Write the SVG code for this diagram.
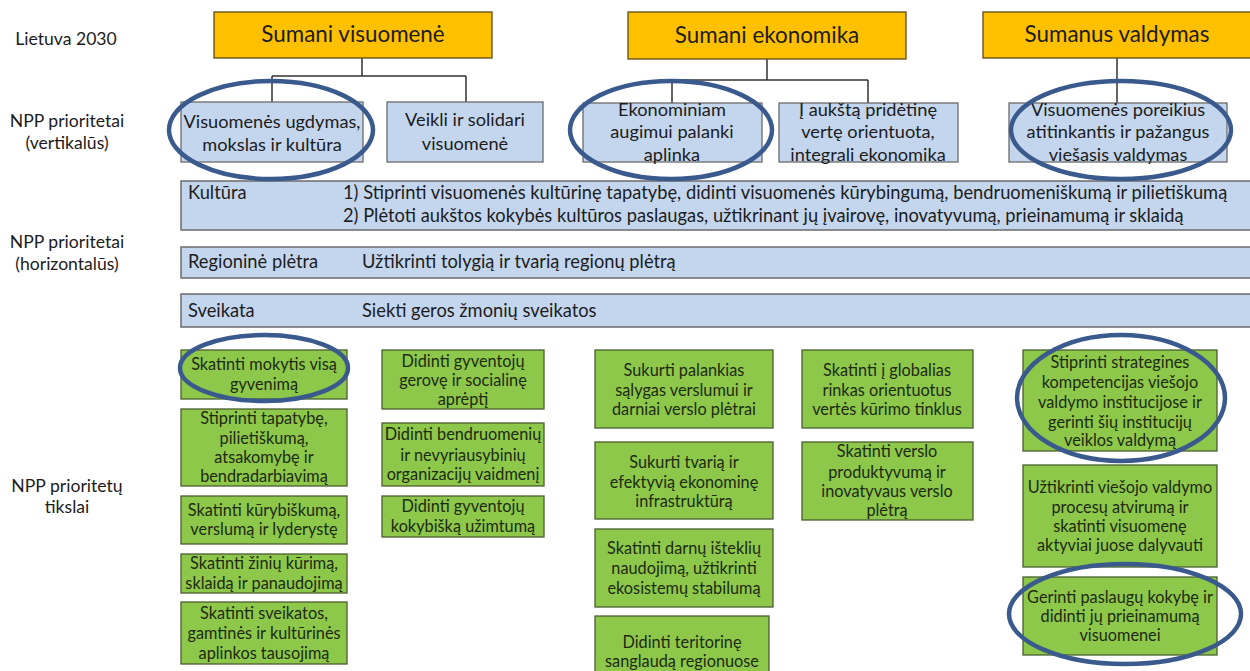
<svg xmlns="http://www.w3.org/2000/svg" width="1250" height="671" viewBox="0 0 1250 671">
<style>
text{font-family:Lato,"Liberation Sans",sans-serif;fill:#1c1c1c}
.lbl{font-size:17.6px;text-anchor:middle}
.top rect{fill:#FFC000;stroke:#5e4a18;stroke-width:1.3}
.top text{font-size:22.4px;text-anchor:middle}
.vp rect{fill:#C4D6EE;stroke:#6b6b6b;stroke-width:1.3}
.vp text{font-size:18.2px;text-anchor:middle}
.hp rect{fill:#C4D6EE;stroke:#6b6b6b;stroke-width:1.5}
.hp text{font-size:18.3px}
.g rect{fill:#8DC84A;stroke:#4a5e30;stroke-width:1.3}
.g text{font-size:16.3px;text-anchor:middle;fill:#1e2a12}
.conn path{fill:none;stroke:#333;stroke-width:1.5}
.ell ellipse{fill:none;stroke:#3A5A8E;stroke-width:4.5}
</style>
<rect width="1250" height="671" fill="#fff"/>

<g id="labels">
<text class="lbl" x="66" y="45">Lietuva 2030</text>
<text class="lbl" x="67" y="127">NPP prioritetai</text>
<text class="lbl" x="67" y="149">(vertikalūs)</text>
<text class="lbl" x="67" y="248">NPP prioritetai</text>
<text class="lbl" x="67" y="270">(horizontalūs)</text>
<text class="lbl" x="67" y="492">NPP prioritetų</text>
<text class="lbl" x="67" y="513">tikslai</text>
</g>

<g class="conn" id="connectors">
<path d="M362 58V76M272 76H466M272 76V102M466 76V102"/>
<path d="M767 59V80M672 80H868M672 80V103M868 80V103"/>
<path d="M1117 58V103"/>
</g>

<g class="top" id="n-sumani-visuomene"><rect x="214" y="12" width="278" height="46"/><text x="353" y="42">Sumani visuomenė</text></g>
<g class="top" id="n-sumani-ekonomika"><rect x="628" y="12" width="278" height="47"/><text x="767" y="43">Sumani ekonomika</text></g>
<g class="top" id="n-sumanus-valdymas"><rect x="983" y="12" width="275" height="46"/><text x="1117" y="42">Sumanus valdymas</text></g>

<g class="vp" id="n-visuomenes-ugdymas"><rect x="181" y="102" width="182" height="60"/><text x="272" y="128">Visuomenės ugdymas,</text><text x="272" y="151">mokslas ir kultūra</text></g>
<g class="vp" id="n-veikli"><rect x="387" y="102" width="156" height="60"/><text x="465" y="126">Veikli ir solidari</text><text x="465" y="150">visuomenė</text></g>
<g class="vp" id="n-ekonominiam"><rect x="583" y="103" width="179" height="59"/><text x="672" y="116">Ekonominiam</text><text x="672" y="138">augimui palanki</text><text x="672" y="161">aplinka</text></g>
<g class="vp" id="n-auksta"><rect x="779" y="103" width="179" height="59"/><text x="868" y="116">Į aukštą pridėtinę</text><text x="868" y="138">vertę orientuota,</text><text x="868" y="161">integrali ekonomika</text></g>
<g class="vp" id="n-poreikius"><rect x="1009" y="103" width="218" height="59"/><text x="1118" y="116">Visuomenės poreikius</text><text x="1118" y="138">atitinkantis ir pažangus</text><text x="1118" y="161">viešasis valdymas</text></g>

<g class="hp" id="n-kultura"><rect x="181" y="181" width="1080" height="49"/><text x="188" y="199">Kultūra</text><text x="343" y="199">1) Stiprinti visuomenės kultūrinę tapatybę, didinti visuomenės kūrybingumą, bendruomeniškumą ir pilietiškumą</text><text x="343" y="222">2) Plėtoti aukštos kokybės kultūros paslaugas, užtikrinant jų įvairovę, inovatyvumą, prieinamumą ir sklaidą</text></g>
<g class="hp" id="n-regionine"><rect x="181" y="247" width="1080" height="31"/><text x="188" y="268">Regioninė plėtra</text><text x="362" y="268">Užtikrinti tolygią ir tvarią regionų plėtrą</text></g>
<g class="hp" id="n-sveikata"><rect x="181" y="294" width="1080" height="33"/><text x="188" y="317">Sveikata</text><text x="362" y="317">Siekti geros žmonių sveikatos</text></g>

<g class="g" id="n-mokytis"><rect x="181" y="350" width="166" height="49"/><text x="264" y="370">Skatinti mokytis visą</text><text x="264" y="390">gyvenimą</text></g>
<g class="g" id="n-tapatybe"><rect x="181" y="409" width="166" height="77"/><text x="264" y="424">Stiprinti tapatybę,</text><text x="264" y="444">pilietiškumą,</text><text x="264" y="463">atsakomybę ir</text><text x="264" y="482">bendradarbiavimą</text></g>
<g class="g" id="n-kurybiskuma"><rect x="181" y="496" width="166" height="48"/><text x="264" y="516">Skatinti kūrybiškumą,</text><text x="264" y="535">verslumą ir lyderystę</text></g>
<g class="g" id="n-ziniu"><rect x="181" y="554" width="166" height="39"/><text x="264" y="569">Skatinti žinių kūrimą,</text><text x="264" y="589">sklaidą ir panaudojimą</text></g>
<g class="g" id="n-sveikatos"><rect x="181" y="602" width="166" height="62"/><text x="264" y="619">Skatinti sveikatos,</text><text x="264" y="639">gamtinės ir kultūrinės</text><text x="264" y="659">aplinkos tausojimą</text></g>

<g class="g" id="n-geroves"><rect x="382" y="350" width="162" height="59"/><text x="463" y="367">Didinti gyventojų</text><text x="463" y="386">gerovę ir socialinę</text><text x="463" y="405">aprėptį</text></g>
<g class="g" id="n-bendruomeniu"><rect x="382" y="423" width="162" height="63"/><text x="463" y="440">Didinti bendruomenių</text><text x="463" y="461">ir nevyriausybinių</text><text x="463" y="480">organizacijų vaidmenį</text></g>
<g class="g" id="n-uzimtuma"><rect x="382" y="496" width="162" height="41"/><text x="463" y="512">Didinti gyventojų</text><text x="463" y="532">kokybišką užimtumą</text></g>

<g class="g" id="n-palankias"><rect x="595" y="350" width="178" height="78"/><text x="684" y="376">Sukurti palankias</text><text x="684" y="396">sąlygas verslumui ir</text><text x="684" y="415">darniai verslo plėtrai</text></g>
<g class="g" id="n-tvaria"><rect x="595" y="442" width="178" height="77"/><text x="684" y="468">Sukurti tvarią ir</text><text x="684" y="488">efektyvią ekonominę</text><text x="684" y="507">infrastruktūrą</text></g>
<g class="g" id="n-darnu"><rect x="595" y="529" width="178" height="78"/><text x="684" y="554">Skatinti darnų išteklių</text><text x="684" y="574">naudojimą, užtikrinti</text><text x="684" y="594">ekosistemų stabilumą</text></g>
<g class="g" id="n-teritorine"><rect x="595" y="616" width="174" height="70"/><text x="682" y="648">Didinti teritorinę</text><text x="682" y="667">sanglaudą regionuose</text></g>

<g class="g" id="n-globalias"><rect x="802" y="350" width="171" height="78"/><text x="887" y="376">Skatinti į globalias</text><text x="887" y="396">rinkas orientuotus</text><text x="887" y="415">vertės kūrimo tinklus</text></g>
<g class="g" id="n-produktyvuma"><rect x="802" y="442" width="171" height="78"/><text x="887" y="457">Skatinti verslo</text><text x="887" y="478">produktyvumą ir</text><text x="887" y="497">inovatyvaus verslo</text><text x="887" y="516">plėtrą</text></g>

<g class="g" id="n-strategines"><rect x="1023" y="350" width="194" height="101"/><text x="1120" y="368">Stiprinti strategines</text><text x="1120" y="388">kompetencijas viešojo</text><text x="1120" y="408">valdymo institucijose ir</text><text x="1120" y="428">gerinti šių institucijų</text><text x="1120" y="446">veiklos valdymą</text></g>
<g class="g" id="n-atviruma"><rect x="1023" y="465" width="194" height="102"/><text x="1120" y="493">Užtikrinti viešojo valdymo</text><text x="1120" y="513">procesų atvirumą ir</text><text x="1120" y="532">skatinti visuomenę</text><text x="1120" y="551">aktyviai juose dalyvauti</text></g>
<g class="g" id="n-paslaugu"><rect x="1023" y="577" width="194" height="78"/><text x="1120" y="603">Gerinti paslaugų kokybę ir</text><text x="1120" y="622">didinti jų prieinamumą</text><text x="1120" y="641">visuomenei</text></g>

<g class="ell" id="highlights">
<ellipse cx="271" cy="130" rx="102" ry="49"/>
<ellipse cx="671" cy="130" rx="101" ry="49"/>
<ellipse cx="1121" cy="130" rx="110" ry="49"/>
<ellipse cx="264" cy="368" rx="84" ry="33"/>
<ellipse cx="1121" cy="398" rx="104" ry="63"/>
<ellipse cx="1125" cy="614" rx="116" ry="50"/>
</g>
</svg>
